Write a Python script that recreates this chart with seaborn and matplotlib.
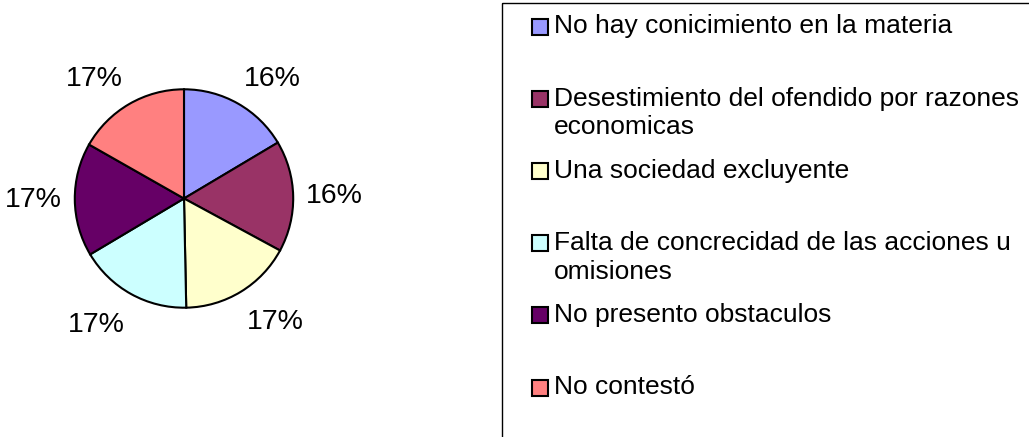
import matplotlib
matplotlib.use("Agg")
import math
import matplotlib.pyplot as plt
from matplotlib.patches import Rectangle
import seaborn as sns

categories = [
    "No hay conicimiento en la materia",
    "Desestimiento del ofendido por razones\neconomicas",
    "Una sociedad excluyente",
    "Falta de concrecidad de las acciones u\nomisiones",
    "No presento obstaculos",
    "No contestó",
]
values = [16.45, 16.45, 16.775, 16.775, 16.775, 16.775]
colors = ["#9999FF", "#993366", "#FFFFCC", "#CCFFFF", "#660066", "#FF8080"]

sns.set_theme(style="white")
plt.rcParams["font.family"] = ["Liberation Sans", "DejaVu Sans"]

W, H = 1029, 437
fig = plt.figure(figsize=(W / 100, H / 100), dpi=100)
fig.patch.set_facecolor("white")

# pie axes
cx, cy, R = 184.0, 198.5, 109.2
L = 1.6
S = 2 * L * R
ax = fig.add_axes([(cx - S / 2) / W, (H - cy - S / 2) / H, S / W, S / H])
total = sum(values)
pct_labels = [f"{100 * v / total:.0f}%" for v in values]
wedges, texts = ax.pie(
    values,
    colors=colors,
    labels=pct_labels,
    labeldistance=1.13,
    startangle=90,
    counterclock=False,
    wedgeprops=dict(edgecolor="black", linewidth=1.5),
    textprops=dict(fontsize=20.5, color="black"),
)
# Excel-like "outside end" placement: label box touches an ellipse around the pie
rx, ry = 1.115, 1.19
for w, t in zip(wedges, texts):
    th = math.radians((w.theta1 + w.theta2) / 2)
    ux, uy = math.cos(th), math.sin(th)
    t.set_position((ux * rx, uy * ry))
    t.set_ha("left" if ux > 0.15 else ("right" if ux < -0.15 else "center"))
    t.set_va("baseline" if uy > 0.15 else ("top" if uy < -0.15 else "center"))
ax.set_xlim(-L, L)
ax.set_ylim(-L, L)
ax.set_aspect("equal")
ax.axis("off")

# legend drawn in pixel-space overlay axes
lax = fig.add_axes([0, 0, 1, 1], zorder=-1)
lax.set_xlim(0, W)
lax.set_ylim(H, 0)
lax.axis("off")
lax.add_patch(Rectangle((502, 3), 700, 600, facecolor="none", edgecolor="black", linewidth=1.0))
y0, step, lh = 26.5, 72.2, 28.5
for i, (lab, col) in enumerate(zip(categories, colors)):
    y = y0 + step * i
    lax.add_patch(Rectangle((532, y - 8), 16, 16, facecolor=col, edgecolor="black", linewidth=1.5))
    for k, line in enumerate(lab.split("\n")):
        lax.text(554, y + k * lh, line, fontsize=19, va="center", ha="left", color="black")

fig.savefig("out.png", dpi=100)
